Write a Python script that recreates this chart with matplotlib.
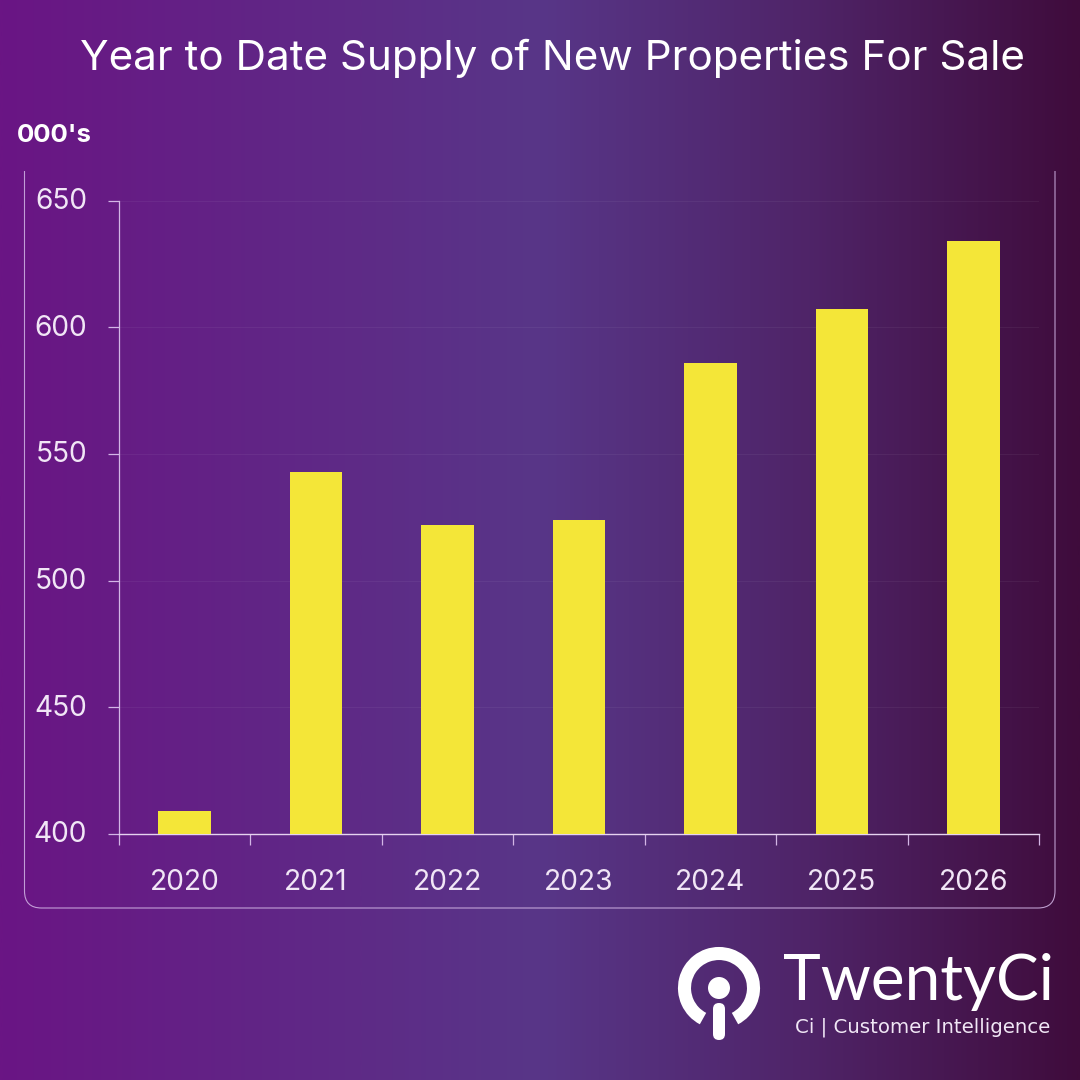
import numpy as np
import matplotlib
matplotlib.use("Agg")
import matplotlib.pyplot as plt
from matplotlib.colors import LinearSegmentedColormap
from matplotlib.patches import Arc, Circle, FancyBboxPatch
from matplotlib.path import Path
from matplotlib.patches import PathPatch
from matplotlib.transforms import ScaledTranslation

years = ["2020", "2021", "2022", "2023", "2024", "2025", "2026"]
supply = [409, 543, 522, 524, 586, 607, 634]
yticks = [400, 450, 500, 550, 600, 650]
title = "Year to Date Supply of New Properties For Sale"
unit = "000's"

W = 1080
fig = plt.figure(figsize=(10.8, 10.8), dpi=100)

# full-figure overlay in pixel coordinates (y down)
bg = fig.add_axes([0, 0, 1, 1], zorder=0)
bg.set_xlim(0, W); bg.set_ylim(W, 0); bg.axis("off")
cmap = LinearSegmentedColormap.from_list("bg", [(0, "#6a1584"), (0.5, "#583688"), (0.75, "#4f2468"), (1, "#3f0c3c")])
bg.imshow(np.linspace(0, 1, 512)[None, :], cmap=cmap, extent=[0, W, W, 0], aspect="auto", zorder=0)

line = "#d3b6e6"
r = 17
L, R, T, B = 24.5, 1055, 171, 908
verts = [(L, T), (L, B - r), (L, B), (L + r, B), (R - r, B), (R, B), (R, B - r), (R, T)]
codes = [Path.MOVETO, Path.LINETO, Path.CURVE3, Path.CURVE3, Path.LINETO, Path.CURVE3, Path.CURVE3, Path.LINETO]
bg.add_patch(PathPatch(Path(verts, codes), fill=False, ec=line, lw=0.8, alpha=0.85, zorder=1))

bg.text(80, 58, title, family="Inter", fontsize=30.4, color="white", va="center", ha="left")
bg.text(17, 135, unit, family="Inter", fontsize=18.6, fontweight="bold", color="white", va="center", ha="left")

# logo (the pixel axes run downwards, so 90 degrees points down on screen)
bg.add_patch(Arc((719, 988), 69, 69, theta1=117.6, theta2=422.4, ec="white", lw=9.4, zorder=3))
bg.add_patch(Circle((719, 988), 11, fc="white", ec="none", zorder=3))
bg.add_patch(FancyBboxPatch((713, 1003), 12, 37, boxstyle="round,pad=0,rounding_size=6", fc="white", ec="none", zorder=3))
bg.text(783, 982, "TwentyCi", family="Lato", fontsize=46, color="white", va="center", ha="left")
bg.text(795, 1027, "Ci | Customer Intelligence", family="DejaVu Sans", fontsize=14.2, color="#f0e6f5", va="center", ha="left")

# chart
ax = fig.add_axes([119 / W, 1 - 834 / W, 920 / W, (834 - 200.5) / W], zorder=2)
ax.patch.set_alpha(0)
x = np.arange(len(years))
ax.bar(x, supply, width=0.4, color="#f4e638", zorder=3)
ax.set_xlim(-0.5, 6.5)
ax.set_ylim(400, 650)
ax.set_yticks(yticks)
ax.set_yticklabels([str(v) for v in yticks], family="Inter", fontsize=20.3, color="#f1e6f6")
ax.set_xticks(np.arange(-0.5, 7, 1))
ax.set_xticklabels([])
ax.set_xticks(x, minor=True)
ax.set_xticklabels(years, minor=True, family="Inter", fontsize=20.3, color="#f1e6f6")
ax.tick_params(axis="x", which="major", length=8, width=0.9, color=line)
ax.tick_params(axis="x", which="minor", length=0, pad=25)
ax.tick_params(axis="y", length=8, width=0.9, color=line, pad=15)
shift = ScaledTranslation(0, 1.5 / 72, fig.dpi_scale_trans)
for lab in ax.get_yticklabels():
    lab.set_transform(lab.get_transform() + shift)
ax.grid(axis="y", color="#ffffff", alpha=0.05, lw=0.8)
ax.set_axisbelow(True)
for s in ["top", "right"]:
    ax.spines[s].set_visible(False)
ax.spines["left"].set_color(line); ax.spines["left"].set_linewidth(0.9)
ax.spines["bottom"].set_color("#e6d3f0"); ax.spines["bottom"].set_linewidth(1.0)

fig.savefig("out.png", dpi=100)
